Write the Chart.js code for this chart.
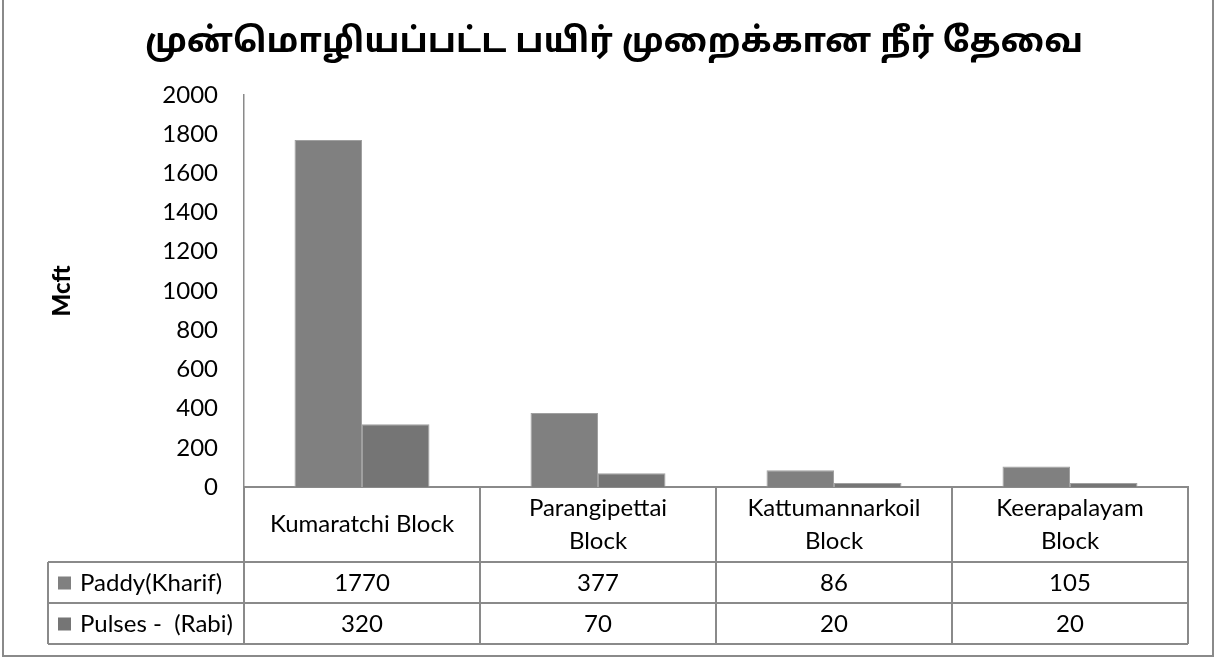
<!DOCTYPE html>
<html>
<head>
<meta charset="utf-8">
<script src="https://cdn.jsdelivr.net/npm/chart.js@4.4.1/dist/chart.umd.min.js"></script>
<style>
  body { margin: 0; background: #fff; }
</style>
</head>
<body>
<canvas id="myChart" width="1225" height="658"></canvas>
<script>
const ctx = document.getElementById("myChart");

// blocks, split into the lines shown in the table header
const categories = [
  ["Kumaratchi Block"],
  ["Parangipettai", "Block"],
  ["Kattumannarkoil", "Block"],
  ["Keerapalayam", "Block"],
];
const seriesNames = ["Paddy(Kharif)", "Pulses -  (Rabi)"];
const paddyKharif = [1770, 377, 86, 105];
const pulsesRabi = [320, 70, 20, 20];
const seriesColors = ["#808080", "#757575"];
const yMin = 0;
const yMax = 2000;
const yStep = 200;

const FONT = "Lato, 'Open Sans', sans-serif";
const LINE = "#8a8a8a";
const TEXT_SIZE = 24;

// data table under the plot, plus the outer frame
const dataTable = {
  id: "dataTable",
  beforeDraw(chart) {
    const c = chart.ctx;
    c.save();
    c.fillStyle = "#fff";
    c.fillRect(0, 0, chart.width, chart.height);
    c.strokeStyle = LINE;
    c.lineWidth = 2;
    c.strokeRect(3, -2, 1210, 658);
    c.restore();
  },
  afterDraw(chart) {
    const c = chart.ctx;
    const xs = chart.scales.x;
    const n = categories.length;
    const catW = (xs.right - xs.left) / n;
    const top = chart.chartArea.bottom;
    const headBottom = top + 75;
    const rowH = 41;
    const tableBottom = headBottom + rowH * seriesNames.length;
    const legendLeft = 48;

    c.save();
    c.strokeStyle = LINE;
    c.lineWidth = 2;
    c.beginPath();
    for (let i = 0; i <= n; i++) {
      const x = Math.round(xs.left + i * catW);
      c.moveTo(x, top);
      c.lineTo(x, tableBottom);
    }
    c.moveTo(legendLeft, headBottom);
    c.lineTo(legendLeft, tableBottom);
    for (let r = 0; r <= seriesNames.length; r++) {
      const y = headBottom + r * rowH;
      c.moveTo(legendLeft, y);
      c.lineTo(xs.right, y);
    }
    c.stroke();

    c.fillStyle = "#000";
    c.font = TEXT_SIZE + "px " + FONT;
    c.textAlign = "center";
    c.textBaseline = "middle";
    const lineGap = 33;
    categories.forEach((lines, i) => {
      const cx = xs.left + (i + 0.5) * catW;
      const cy = (top + headBottom) / 2;
      const y0 = cy - ((lines.length - 1) * lineGap) / 2;
      lines.forEach((t, k) => c.fillText(t, cx, y0 + k * lineGap));
    });

    const values = [paddyKharif, pulsesRabi];
    values.forEach((vals, r) => {
      const cy = headBottom + (r + 0.5) * rowH + 1;
      vals.forEach((v, i) => {
        c.fillText(String(v), xs.left + (i + 0.5) * catW, cy);
      });
      c.fillStyle = seriesColors[r];
      c.fillRect(58, cy - 7, 13, 13);
      c.fillStyle = "#000";
      c.textAlign = "left";
      c.fillText(seriesNames[r], 80, cy);
      c.textAlign = "center";
    });
    c.restore();
  },
};

new Chart(ctx, {
  type: "bar",
  data: {
    labels: categories,
    datasets: [
      {
        label: seriesNames[0],
        data: paddyKharif,
        backgroundColor: seriesColors[0],
        borderColor: "#a0a0a0",
        borderWidth: 1,
      },
      {
        label: seriesNames[1],
        data: pulsesRabi,
        backgroundColor: seriesColors[1],
        borderColor: "#a0a0a0",
        borderWidth: 1,
      },
    ],
  },
  options: {
    responsive: false,
    animation: false,
    categoryPercentage: 0.572,
    barPercentage: 1,
    layout: {
      padding: { left: 40, right: 37, top: 0, bottom: 171 },
    },
    plugins: {
      legend: { display: false },
      tooltip: { enabled: false },
      title: {
        display: true,
        text: "முன்மொழியப்பட்ட பயிர் முறைக்கான நீர் தேவை",
        color: "#000",
        font: { family: "'Noto Sans Tamil', 'Noto Sans', " + FONT, size: 34, weight: "bold", lineHeight: 1.2 },
        padding: { top: 25, bottom: 29 },
      },
    },
    scales: {
      x: {
        grid: { display: false, drawTicks: false },
        ticks: { display: false },
        border: { display: true, color: LINE, width: 2 },
        afterFit(scale) {
          scale.height = 0;
        },
      },
      y: {
        min: yMin,
        max: yMax,
        grid: { display: false, drawTicks: false },
        border: { display: true, color: LINE, width: 1.5 },
        ticks: {
          stepSize: yStep,
          color: "#000",
          padding: 26,
          font: { family: FONT, size: TEXT_SIZE },
          callback: (v) => String(v),
        },
        title: {
          display: true,
          text: "Mcft",
          color: "#000",
          font: { family: FONT, size: 24, weight: 900 },
          padding: { top: 8, bottom: 0 },
        },
        afterFit(scale) {
          scale.width = 204;
        },
      },
    },
  },
  plugins: [dataTable],
});
</script>
</body>
</html>
